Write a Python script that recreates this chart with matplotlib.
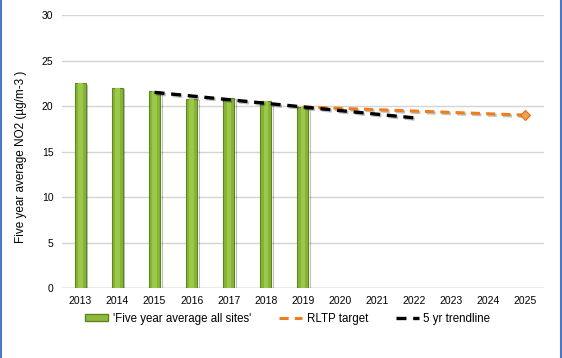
import matplotlib.pyplot as plt
import matplotlib.patheffects as pe
from matplotlib.lines import Line2D

years = ['2013', '2014', '2015', '2016', '2017', '2018', '2019',
         '2020', '2021', '2022', '2023', '2024', '2025']
avg_all_sites = [22.5, 22.0, 21.6, 20.8, 20.9, 20.5, 19.9]
trend_years = ['2015', '2016', '2017', '2018', '2019', '2020', '2021', '2022']
trend_values = [21.5, 21.1, 20.7, 20.3, 19.9, 19.5, 19.1, 18.7]
rltp_years = ['2019', '2020', '2021', '2022', '2023', '2024', '2025']
rltp_values = [19.9, 19.75, 19.6, 19.45, 19.3, 19.15, 19.0]

plt.rcParams['font.family'] = ['Liberation Sans', 'DejaVu Sans']

fig = plt.figure(figsize=(5.62, 3.58), dpi=100)
ax = fig.add_axes([0.110, 0.1955, 0.858, 0.7625])

pos = {y: i for i, y in enumerate(years)}
xb = [pos[y] for y in years[:len(avg_all_sites)]]
shadow = [pe.SimpleLineShadow(offset=(1, -1), alpha=0.25), pe.Normal()]

ax.bar(xb, avg_all_sites, width=0.3, color='#86B436', edgecolor='#5F8425',
       linewidth=0.8, zorder=2, path_effects=shadow)
ax.bar(xb, avg_all_sites, width=0.12, color='#9CC84A', linewidth=0, zorder=2.1)

ax.plot([pos[y] for y in rltp_years], rltp_values, color='#EE7D1E', lw=2.2,
        dashes=(3, 2), zorder=3, path_effects=shadow)
ax.plot(pos['2025'], rltp_values[-1], marker='D', ms=5, color='#F0A050',
        mec='#E07018', mew=0.8, zorder=4)
ax.plot([pos[y] for y in trend_years], trend_values, color='black', lw=2.4,
        dashes=(3, 2), zorder=3.5, path_effects=shadow)

ax.set_xlim(-0.5, len(years) - 0.5)
ax.set_ylim(0, 30)
ax.set_yticks(range(0, 31, 5))
ax.set_xticks(range(len(years)))
ax.set_xticklabels(years)
ax.tick_params(length=0, labelsize=7.5, colors='black', pad=6)
ax.grid(axis='y', color='#D4D4D4', lw=1, zorder=0)
ax.set_axisbelow(True)
for s in ax.spines.values():
    s.set_visible(False)
ax.axhline(0, color='#BFBFBF', lw=1, zorder=1)

ax.set_ylabel('Five year average NO2 (µg/m-3 )', fontsize=8.5)
ax.yaxis.set_label_coords(-0.072, 0.48)

handles = [
    plt.Rectangle((0, 0), 1, 1, facecolor='#8CBA3A', edgecolor='#5F8425'),
    Line2D([], [], color='#EE7D1E', lw=2.2, dashes=(3, 2)),
    Line2D([], [], color='black', lw=2.4, dashes=(3, 2)),
]
labels = ["'Five year average all sites'", 'RLTP target', '5 yr trendline']
fig.legend(handles, labels, loc='center', bbox_to_anchor=(0.512, 0.11), ncol=3,
           frameon=False, fontsize=8.3, handlelength=2.0, handleheight=0.5,
           columnspacing=2.4, handletextpad=0.4)

for x in (0.002, 0.998):
    fig.add_artist(Line2D([x, x], [0, 1], color='#4A78C8', lw=1.5))

fig.savefig('out.png', dpi=100)
